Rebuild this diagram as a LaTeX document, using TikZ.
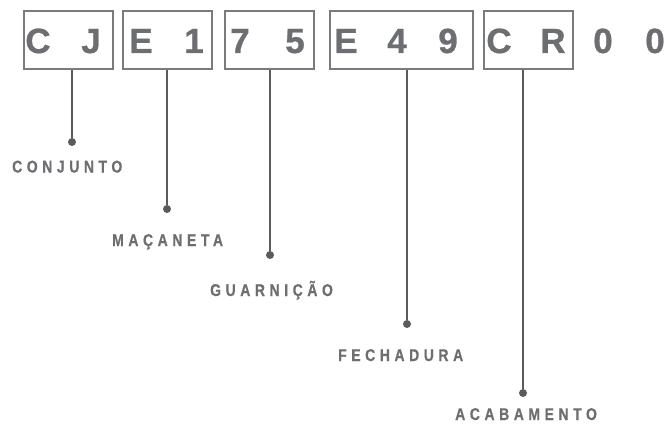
\documentclass[tikz,border=0pt]{standalone}
\usepackage{fontspec}
\setmainfont{Liberation Sans}
\newfontfamily\bigfont[FakeBold=0.8,UprightFont={* Bold},BoldFont={* Bold}]{Liberation Sans}
\newfontfamily\labfont[FakeStretch=0.82,LetterSpace=27,FakeBold=0.6,UprightFont={* Bold},BoldFont={* Bold}]{Liberation Sans}
\definecolor{boxgray}{HTML}{7A7B7D}
\definecolor{txtgray}{HTML}{6D6E71}
\definecolor{linegray}{HTML}{5A5B5E}
\tikzset{
  codebox/.style={draw=boxgray, line width=2pt, minimum height=58pt, inner sep=0pt, anchor=north west},
  ch/.style={text=txtgray, font=\bigfont\fontsize{35}{35}\selectfont, anchor=base, inner sep=0pt},
  lab/.style={text=txtgray, font=\labfont\fontsize{17}{17}\selectfont, inner sep=0pt, anchor=base west},
  dot/.style={circle, fill=linegray, minimum size=8pt, inner sep=0pt},
  conn/.style={draw=linegray, line width=2pt}
}
\begin{document}
\begin{tikzpicture}[x=1pt,y=-1pt]
\useasboundingbox (0,0) rectangle (671,425);
% boxes
\node[codebox, minimum width=89pt] (b1) at (23,10) {};
\node[codebox, minimum width=89pt] (b2) at (122,10) {};
\node[codebox, minimum width=89pt] (b3) at (224,10) {};
\node[codebox, minimum width=143pt] (b4) at (329,10) {};
\node[codebox, minimum width=89pt] (b5) at (483,10) {};
% characters
\node[ch] (c1) at (38,53) {C};
\node[ch] (c2) at (91,53) {J};
\node[ch] (c3) at (141,53) {E};
\node[ch] (c4) at (194,53) {1};
\node[ch] (c5) at (240,53) {7};
\node[ch] (c6) at (295,53) {5};
\node[ch] (c7) at (346,53) {E};
\node[ch] (c8) at (397,53) {4};
\node[ch] (c9) at (448,53) {9};
\node[ch] (c10) at (499,53) {C};
\node[ch] (c11) at (553,53) {R};
\node[ch] (c12) at (603,53) {0};
\node[ch] (c13) at (655,53) {0};
% dots
\node[dot] (d1) at (72,142) {};
\node[dot] (d2) at (167,209) {};
\node[dot] (d3) at (270,255) {};
\node[dot] (d4) at (407,324) {};
\node[dot] (d5) at (523,393) {};
% connectors
\draw[conn] (b1.south -| d1) -- (d1);
\draw[conn] (b2.south -| d2) -- (d2);
\draw[conn] (b3.south -| d3) -- (d3);
\draw[conn] (b4.south -| d4) -- (d4);
\draw[conn] (b5.south -| d5) -- (d5);
% labels
\node[lab] (l1) at (12,172.5) {CONJUNTO};
\node[lab] (l2) at (112,246) {MAÇANETA};
\node[lab] (l3) at (210,296) {GUARNIÇÃO};
\node[lab] (l4) at (338,361) {FECHADURA};
\node[lab] (l5) at (455,420) {ACABAMENTO};
\end{tikzpicture}
\end{document}
